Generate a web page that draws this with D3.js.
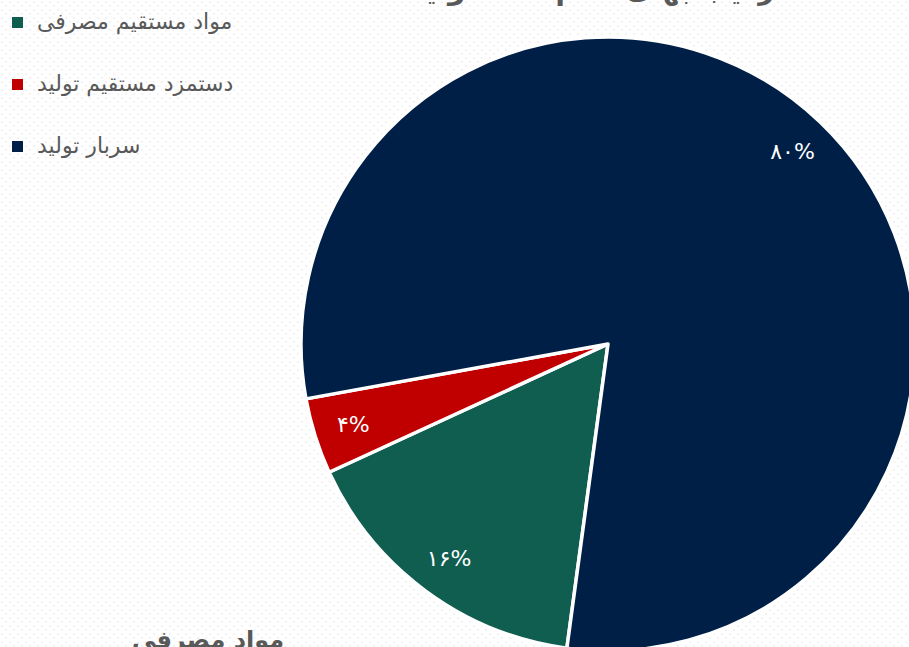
<!DOCTYPE html>
<html>
<head>
<meta charset="utf-8">
<script src="https://cdn.jsdelivr.net/npm/d3@7"></script>
<style>
  body { margin: 0; background: #fff; }
  svg { display: block; font-family: "DejaVu Sans", sans-serif; }
</style>
</head>
<body>
<script>
// data
var categories = ["مواد مستقیم مصرفی", "دستمزد مستقیم تولید", "سربار تولید"];
var values = [16, 4, 80];
var labels = ["۱۶%", "۴%", "۸۰%"];
var colors = ["#0f5e4f", "#c00000", "#001f47"];
var title = "ترکیب بهای تمام شده تولید";
var subTitle = "مواد مصرفی";

var width = 909, height = 647;
var cx = 608, cy = 344, radius = 307;

var svg = d3.select("body").append("svg")
    .attr("width", width)
    .attr("height", height);

// light dotted background
var pat = svg.append("defs").append("pattern")
    .attr("id", "dots")
    .attr("width", 8)
    .attr("height", 8)
    .attr("patternUnits", "userSpaceOnUse");
pat.append("rect").attr("width", 8).attr("height", 8).attr("fill", "#fff");
pat.append("circle").attr("cx", 2).attr("cy", 2).attr("r", 1.1).attr("fill", "#f1f1f1");
pat.append("circle").attr("cx", 6).attr("cy", 6).attr("r", 1.1).attr("fill", "#f1f1f1");

svg.append("rect")
    .attr("width", width)
    .attr("height", height)
    .attr("fill", "url(#dots)");

var pie = d3.pie()
    .sort(null)
    .value(function(d) { return d; })
    .startAngle(187.7 * Math.PI / 180)
    .endAngle((187.7 + 360) * Math.PI / 180);

var arc = d3.arc()
    .innerRadius(0)
    .outerRadius(radius);

var labelArc = d3.arc()
    .innerRadius(radius * 0.87)
    .outerRadius(radius * 0.87);

var g = svg.append("g")
    .attr("transform", "translate(" + cx + "," + cy + ")");

var slices = pie(values);

g.selectAll(".slice")
    .data(slices)
  .enter().append("path")
    .attr("class", "slice")
    .attr("d", arc)
    .attr("fill", function(d, i) { return colors[i]; })
    .attr("stroke", "#fff")
    .attr("stroke-width", 3.5)
    .attr("stroke-linejoin", "round");

g.selectAll(".lbl")
    .data(slices)
  .enter().append("text")
    .attr("class", "lbl")
    .attr("transform", function(d) { return "translate(" + labelArc.centroid(d) + ")"; })
    .attr("text-anchor", "middle")
    .attr("dy", "0.35em")
    .attr("fill", "#fff")
    .style("font-size", "22px")
    .text(function(d, i) { return labels[i]; });

// legend
var legend = svg.selectAll(".legend")
    .data(categories)
  .enter().append("g")
    .attr("class", "legend")
    .attr("transform", function(d, i) { return "translate(12," + (22 + i * 62) + ")"; });

legend.append("rect")
    .attr("x", 0)
    .attr("y", -5)
    .attr("width", 11)
    .attr("height", 11)
    .attr("fill", function(d, i) { return colors[i]; });

legend.append("text")
    .attr("x", 25)
    .attr("y", 0)
    .attr("dy", "0.3em")
    .attr("fill", "#595959")
    .style("font-size", "22px")
    .text(function(d) { return d; });

// title, mostly outside the frame
svg.append("text")
    .attr("x", 598)
    .attr("y", -1)
    .attr("text-anchor", "middle")
    .attr("fill", "#595959")
    .style("font-size", "28px")
    .style("font-weight", "bold")
    .text(title);

svg.append("text")
    .attr("x", 208)
    .attr("y", 648)
    .attr("text-anchor", "middle")
    .attr("fill", "#595959")
    .style("font-size", "24px")
    .style("font-weight", "bold")
    .text(subTitle);
</script>
</body>
</html>
